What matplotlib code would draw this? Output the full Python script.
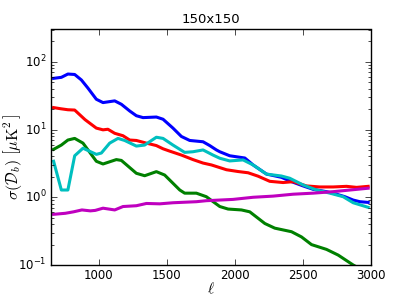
import matplotlib
matplotlib.use("Agg")
import matplotlib.pyplot as plt

plt.style.use("classic")

title = "150x150"

ell_blue = [669, 726, 774, 824, 873, 921, 983, 1032, 1118, 1167, 1228, 1277, 1326, 1424, 1473,
            1546, 1608, 1669, 1767, 1816, 1865, 1890, 1963, 2074, 2135, 2233, 2343, 2417, 2502,
            2576, 2674, 2748, 2809, 2870, 2919, 2980]
val_blue = [57, 59, 66, 65, 54, 41, 28, 25, 26.5, 23.6, 18.8, 16, 15, 15.3, 14.2,
            10.5, 7.9, 6.9, 6.6, 5.8, 5.0, 4.7, 4.1, 3.8, 3.0, 2.2, 1.97, 1.7, 1.47,
            1.31, 1.21, 1.11, 1.02, 0.91, 0.86, 0.84]

ell_red = [669, 720, 774, 824, 900, 983, 1032, 1068, 1118, 1179, 1228, 1277, 1351, 1424, 1473,
           1522, 1608, 1693, 1767, 1829, 1939, 2024, 2098, 2171, 2257, 2355, 2429, 2527, 2625,
           2723, 2821, 2895, 2980]
val_red = [21.1, 20.3, 19.6, 19.4, 14.0, 10.5, 9.9, 10.1, 8.8, 8.1, 7.0, 6.9, 6.3, 5.8, 5.2,
           4.8, 4.2, 3.6, 3.2, 3.0, 2.55, 2.4, 2.3, 2.05, 1.72, 1.65, 1.7, 1.47, 1.42,
           1.42, 1.45, 1.4, 1.45]

ell_green = [669, 726, 774, 824, 885, 983, 1032, 1130, 1167, 1277, 1338, 1424, 1485, 1596, 1632,
             1718, 1791, 1890, 1951, 2049, 2110, 2221, 2294, 2417, 2490, 2564, 2674, 2760, 2870, 2980]
val_green = [5.1, 5.9, 7.0, 7.4, 6.3, 3.4, 3.1, 3.6, 3.5, 2.26, 2.08, 2.39, 2.13, 1.28, 1.15,
             1.15, 1.02, 0.73, 0.67, 0.65, 0.61, 0.41, 0.35, 0.31, 0.26, 0.20, 0.17, 0.14, 0.10, 0.075]

ell_cyan = [669, 726, 774, 824, 885, 983, 1020, 1081, 1142, 1191, 1277, 1338, 1424, 1473, 1546,
            1632, 1693, 1767, 1840, 1890, 1963, 2061, 2135, 2233, 2343, 2404, 2502, 2601, 2699,
            2796, 2870, 2980]
val_cyan = [3.4, 1.28, 1.28, 4.1, 5.3, 4.3, 4.5, 6.3, 7.4, 6.9, 5.7, 5.9, 7.7, 7.4, 5.9,
            4.6, 4.7, 5.0, 4.2, 3.77, 3.44, 3.56, 3.0, 2.2, 2.06, 1.91, 1.52, 1.28, 1.15,
            1.02, 0.83, 0.71]

ell_magenta = [669, 755, 816, 877, 939, 975, 1032, 1118, 1179, 1277, 1351, 1449, 1546, 1718,
               1791, 1987, 2135, 2282, 2429, 2576, 2723, 2980]
val_magenta = [0.56, 0.58, 0.61, 0.65, 0.63, 0.64, 0.69, 0.65, 0.73, 0.75, 0.81, 0.80, 0.83, 0.86,
               0.89, 0.93, 1.0, 1.04, 1.11, 1.15, 1.21, 1.36]

fig = plt.figure(figsize=(4.13, 2.95), dpi=100, facecolor="white")
ax = fig.add_axes([0.1235, 0.1017, 0.7745, 0.7983])
ax.set_facecolor("white")

lw = 2.2
ax.plot(ell_blue, val_blue, color="b", lw=lw)
ax.plot(ell_red, val_red, color="r", lw=lw)
ax.plot(ell_green, val_green, color="g", lw=lw)
ax.plot(ell_cyan, val_cyan, color="c", lw=lw)
ax.plot(ell_magenta, val_magenta, color="m", lw=lw)

ax.set_yscale("log")
ax.set_xlim(650, 3000)
ax.set_ylim(0.1, 300)
ax.set_xticks([1000, 1500, 2000, 2500, 3000])
ax.tick_params(labelsize=8.5, pad=3)
ax.set_title(title, fontsize=9.5)
ax.set_xlabel(r"$\ell$", fontsize=11, labelpad=-1)
ax.set_ylabel(r"$\sigma(\mathcal{D}_b)\ \left[\mu{\rm K}^2\,\right]$", fontsize=11.5)
ax.yaxis.set_label_coords(-0.085, 0.46)

fig.savefig("out.png", dpi=100, facecolor="white")
